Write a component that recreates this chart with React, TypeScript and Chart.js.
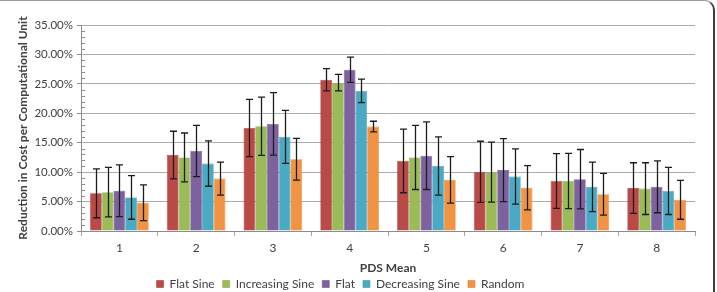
import { useEffect, useRef } from 'react';
import { Chart, registerables } from 'chart.js';

Chart.register(...registerables);

// PDS mean categories on the x axis
const categories = ['1', '2', '3', '4', '5', '6', '7', '8'];

// Mean reduction (%) and standard-deviation half-widths per workload pattern
const flatSine = [6.4, 12.9, 17.5, 25.7, 11.9, 10.05, 8.5, 7.3];
const flatSineErr = [4.15, 4.05, 4.85, 1.9, 5.4, 5.2, 4.65, 4.3];
const increasingSine = [6.6, 12.5, 17.8, 25.2, 12.5, 10.0, 8.5, 7.2];
const increasingSineErr = [4.2, 4.15, 4.95, 1.4, 5.45, 5.1, 4.7, 4.4];
const flat = [6.85, 13.6, 18.2, 27.4, 12.8, 10.35, 8.8, 7.5];
const flatErr = [4.4, 4.35, 5.3, 2.15, 5.75, 5.35, 5.05, 4.4];
const decreasingSine = [5.7, 11.45, 16.0, 23.8, 11.05, 9.25, 7.5, 6.8];
const decreasingSineErr = [3.7, 3.85, 4.5, 2.0, 4.95, 4.7, 4.2, 4.0];
const random = [4.8, 8.9, 12.2, 17.75, 8.7, 7.35, 6.25, 5.3];
const randomErr = [3.05, 2.8, 3.55, 0.9, 3.95, 3.75, 3.55, 3.3];

// Y axis range (percent)
const yMin = 0;
const yMax = 35;
const yMajorStep = 5;
const yMinorStep = 1;

const FONT = 'Lato, "Noto Sans", sans-serif';

const seriesList = [
  { label: 'Flat Sine', data: flatSine, err: flatSineErr, color: '#BA4A47', edge: '#a5403e' },
  { label: 'Increasing Sine', data: increasingSine, err: increasingSineErr, color: '#9BBB59', edge: '#88a64c' },
  { label: 'Flat', data: flat, err: flatErr, color: '#7E62A0', edge: '#6d548e' },
  { label: 'Decreasing Sine', data: decreasingSine, err: decreasingSineErr, color: '#4AAAC4', edge: '#3e95ac' },
  { label: 'Random', data: random, err: randomErr, color: '#F29344', edge: '#dc8239' },
];

// Draws symmetric error bars with caps on top of every bar
const errorBarPlugin = {
  id: 'errorBars',
  afterDatasetsDraw(chart: any) {
    const { ctx } = chart;
    const yScale = chart.scales.y;
    ctx.save();
    ctx.strokeStyle = '#1c1c1c';
    ctx.lineWidth = 1.3;
    chart.data.datasets.forEach((ds: any, di: number) => {
      const meta = chart.getDatasetMeta(di);
      meta.data.forEach((bar: any, i: number) => {
        const v = ds.data[i];
        const e = ds.errors[i];
        const top = yScale.getPixelForValue(v + e);
        const bottom = yScale.getPixelForValue(v - e);
        const x = Math.round(bar.x) + 0.5;
        const cap = 3.5;
        ctx.beginPath();
        ctx.moveTo(x, top);
        ctx.lineTo(x, bottom);
        ctx.moveTo(x - cap, top);
        ctx.lineTo(x + cap, top);
        ctx.moveTo(x - cap, bottom);
        ctx.lineTo(x + cap, bottom);
        ctx.stroke();
      });
    });
    ctx.restore();
  },
};

// Minor tick marks on the inside of the value axis
const minorTickPlugin = {
  id: 'minorTicks',
  afterDraw(chart: any) {
    const { ctx } = chart;
    const y = chart.scales.y;
    const left = chart.chartArea.left;
    ctx.save();
    ctx.strokeStyle = '#8c8c8c';
    ctx.lineWidth = 1;
    for (let v = yMin; v <= yMax; v += yMinorStep) {
      if (v % yMajorStep === 0) continue;
      const py = Math.round(y.getPixelForValue(v)) + 0.5;
      ctx.beginPath();
      ctx.moveTo(left, py);
      ctx.lineTo(left + 4, py);
      ctx.stroke();
    }
    ctx.restore();
  },
};

// Nudges the legend row left under the plot
const legendShiftPlugin = {
  id: 'legendShift',
  afterLayout(chart: any) {
    const lg = chart.legend;
    if (lg) {
      lg.left -= 7;
      lg.right -= 7;
    }
  },
};

export default function App() {
  const canvasRef = useRef<HTMLCanvasElement | null>(null);

  useEffect(() => {
    document.body.style.margin = '0';
    const canvas = canvasRef.current;
    if (!canvas) return;
    const chart = new Chart(canvas, {
      type: 'bar',
      data: {
        labels: categories,
        datasets: seriesList.map((s) => ({
          label: s.label,
          data: s.data,
          errors: s.err,
          backgroundColor: s.color,
          borderColor: s.edge,
          borderWidth: 0.6,
          categoryPercentage: 0.764,
          barPercentage: 1.0,
        })) as any,
      },
      options: {
        responsive: false,
        animation: false,
        devicePixelRatio: 1,
        layout: { padding: { top: 25, right: 22, left: 0, bottom: 0 } },
        plugins: {
          tooltip: { enabled: false },
          legend: {
            position: 'bottom',
            maxHeight: 22,
            labels: {
              boxWidth: 7,
              boxHeight: 7,
              padding: 8,
              color: '#404040',
              font: { family: FONT, size: 12 },
            },
          },
        },
        scales: {
          x: {
            grid: {
              offset: true,
              drawOnChartArea: false,
              drawTicks: true,
              tickLength: 5,
              color: '#a6a6a6',
            },
            border: { color: '#8c8c8c' },
            ticks: {
              color: '#404040',
              padding: 5,
              font: { family: FONT, size: 12 },
            },
            title: {
              display: true,
              text: 'PDS Mean',
              color: '#404040',
              font: { family: FONT, size: 12, weight: 'bold' },
              padding: { top: 0, bottom: -5 },
            },
            afterFit(scale: any) {
              scale.height = 39;
            },
          },
          y: {
            min: yMin,
            max: yMax,
            grid: {
              color: '#ababab',
              tickLength: 4,
              tickColor: '#8c8c8c',
            },
            border: { color: '#8c8c8c' },
            ticks: {
              stepSize: yMajorStep,
              color: '#404040',
              padding: 4,
              font: { family: FONT, size: 11.5 },
              callback: (v: any) => Number(v).toFixed(2) + '%',
            },
            title: {
              display: true,
              text: 'Reduction in Cost per Computational Unit',
              color: '#404040',
              font: { family: FONT, size: 12, weight: 'bold' },
              padding: { top: 16, bottom: 0 },
            },
            afterFit(scale: any) {
              scale.width = 81;
            },
          },
        },
      } as any,
      plugins: [errorBarPlugin, minorTickPlugin, legendShiftPlugin],
    });
    return () => chart.destroy();
  }, []);

  return (
    <div style={{ position: 'fixed', left: 0, top: 0, width: 717, height: 292, overflow: 'hidden', background: '#fff' }}>
      <div
        style={{
          position: 'absolute',
          left: -20,
          top: 0,
          right: 2,
          bottom: -20,
          boxSizing: 'border-box',
          borderTop: '1px solid #9a9a9a',
          borderRight: '2px solid #3c3c3c',
          borderTopRightRadius: 10,
        }}
      />
      <canvas ref={canvasRef} width={717} height={292} style={{ position: 'absolute', left: 0, top: 0 }} />
    </div>
  );
}
